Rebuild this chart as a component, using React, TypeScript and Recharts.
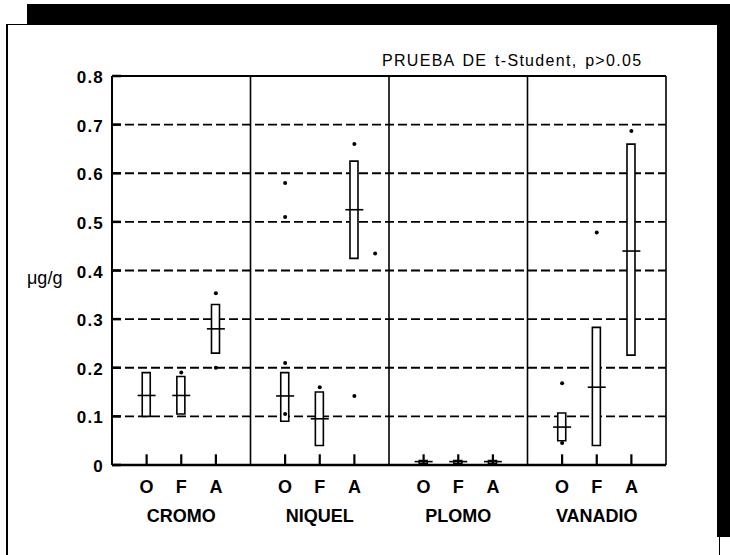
import { ComposedChart, Bar, Scatter, XAxis, YAxis, CartesianGrid, ReferenceLine } from 'recharts'

const metals = ['CROMO', 'NIQUEL', 'PLOMO', 'VANADIO']
const sources = ['O', 'F', 'A']

// box limits and mean per metal/source (same order: CROMO O,F,A, NIQUEL O,F,A, ...)
const boxLow = [0.1, 0.105, 0.23, 0.09, 0.04, 0.425, 0.003, 0.003, 0.003, 0.05, 0.04, 0.226]
const boxHigh = [0.19, 0.182, 0.33, 0.19, 0.15, 0.625, 0.009, 0.009, 0.009, 0.107, 0.283, 0.66]
const means = [0.143, 0.143, 0.28, 0.142, 0.095, 0.525, 0.007, 0.007, 0.007, 0.078, 0.16, 0.44]

// single points (x in slot units of the axis)
const dotX = [2, 3, 3, 5, 5, 5, 5, 6, 7, 7, 7.6, 13, 13, 14, 15]
const dotY = [0.19, 0.353, 0.2, 0.58, 0.51, 0.21, 0.105, 0.16, 0.66, 0.142, 0.435, 0.168, 0.045, 0.478, 0.687]

const yTicks = [0, 0.1, 0.2, 0.3, 0.4, 0.5, 0.6, 0.7, 0.8]
const dividers = [4, 8, 12, 16]

const font = '"Liberation Sans", Arial, sans-serif'

const boxes = boxLow.map((low, i) => {
  const g = Math.floor(i / 3)
  const k = i % 3
  return {
    x: g * 4 + k + 1,
    src: sources[k],
    metal: metals[g],
    range: [low, boxHigh[i]],
    mean: means[i],
    tickTop: 0.022,
  }
})
const xTicks = boxes.map((b) => b.x)
const dots = dotX.map((x, i) => ({ x, v: dotY[i] }))

function XTick({ x, y, payload }: any) {
  const b = boxes.find((d) => d.x === payload.value)
  if (!b) return null
  return (
    <g>
      <text x={x} y={y + 28} textAnchor="middle" fontFamily={font} fontSize={18} fontWeight={700} fill="#000">
        {b.src}
      </text>
      {b.src === 'F' && (
        <text x={x} y={y + 57} textAnchor="middle" fontFamily={font} fontSize={18} fontWeight={700} fill="#000">
          {b.metal}
        </text>
      )}
    </g>
  )
}

function YTick({ x, y, payload }: any) {
  const v = payload.value
  return (
    <g>
      <line x1={x} x2={x + 9} y1={y} y2={y} stroke="#000" strokeWidth={2.5} />
      <text x={x - 8} y={y + 7} textAnchor="end" fontFamily={font} fontSize={17} fontWeight={700} letterSpacing={1.2} fill="#000">
        {v === 0 ? '0' : v.toFixed(1)}
      </text>
    </g>
  )
}

// inward tick from just above the axis down to it
const TickMark = (props: any) => (
  <line x1={props.cx} x2={props.cx} y1={props.cy} y2={props.cy + 11} stroke="#000" strokeWidth={2.2} />
)

const MeanMark = (props: any) => (
  <line x1={props.cx - 9} x2={props.cx + 9} y1={props.cy} y2={props.cy} stroke="#000" strokeWidth={1.6} />
)

const DotMark = (props: any) => <circle cx={props.cx} cy={props.cy} r={2} fill="#000" />

export default function App() {
  return (
    <div style={{ position: 'absolute', left: 0, top: 0, width: 730, height: 555, background: '#fff', overflow: 'hidden' }}>
      <div style={{ position: 'absolute', left: 6, top: 24, width: 711, height: 540, borderLeft: '2px solid #000', borderTop: '1px solid #000', borderRight: '1px solid #000' }} />
      <div style={{ position: 'absolute', left: 27, top: 4, width: 703, height: 21, background: '#000' }} />
      <div style={{ position: 'absolute', left: 717, top: 4, width: 13, height: 533, background: '#000' }} />
      <div style={{ position: 'absolute', left: 382, top: 52, fontFamily: font, fontSize: 16, letterSpacing: 1.3, wordSpacing: 2, color: '#000', whiteSpace: 'nowrap' }}>
        PRUEBA DE t-Student, p&gt;0.05
      </div>
      <div style={{ position: 'absolute', left: 27, top: 268, fontFamily: font, fontSize: 18, color: '#000' }}>
        μg/g
      </div>
      <div style={{ position: 'absolute', left: 0, top: 0 }}>
        <ComposedChart width={730} height={555} data={boxes} margin={{ top: 76, right: 64, bottom: 30, left: 52 }}>
          <CartesianGrid vertical={false} stroke="#000" strokeWidth={1.8} strokeDasharray="9 4" />
          <XAxis
            dataKey="x"
            type="number"
            domain={[0, 16]}
            ticks={xTicks}
            interval={0}
            height={60}
            tickSize={0}
            tickMargin={0}
            tickLine={false}
            axisLine={{ stroke: '#000', strokeWidth: 2.5 }}
            tick={<XTick />}
          />
          <YAxis
            type="number"
            domain={[0, 0.8]}
            ticks={yTicks}
            width={60}
            tickSize={0}
            tickMargin={0}
            tickLine={false}
            axisLine={{ stroke: '#000', strokeWidth: 2 }}
            tick={<YTick />}
          />
          <ReferenceLine y={0.8} stroke="#000" strokeWidth={2} />
          {dividers.map((d) => (
            <ReferenceLine key={d} x={d} stroke="#000" strokeWidth={1.6} />
          ))}
          <Bar dataKey="range" barSize={8} fill="#fff" stroke="#000" strokeWidth={1.6} isAnimationActive={false} />
          <Scatter dataKey="tickTop" shape={<TickMark />} isAnimationActive={false} />
          <Scatter dataKey="mean" shape={<MeanMark />} isAnimationActive={false} />
          <Scatter data={dots} dataKey="v" shape={<DotMark />} isAnimationActive={false} />
        </ComposedChart>
      </div>
    </div>
  )
}
